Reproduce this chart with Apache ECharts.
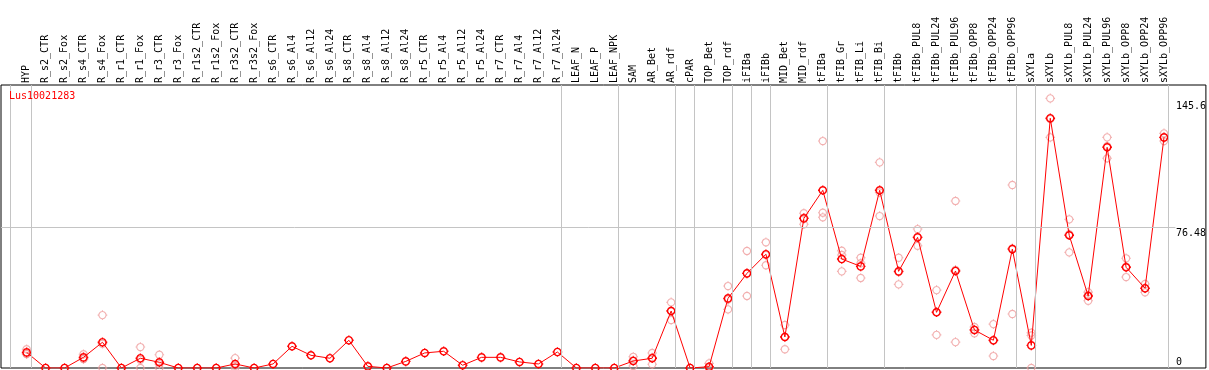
<!DOCTYPE html>
<html>
<head>
<meta charset="utf-8">
<script src="https://cdn.jsdelivr.net/npm/echarts@6/dist/echarts.min.js"></script>
<style>
html,body{margin:0;padding:0;background:#fff;}
#chart{width:1209px;height:370px;}
</style>
</head>
<body>
<div id="chart"></div>
<script>
var categories=['HYP','R_s2_CTR','R_s2_Fox','R_s4_CTR','R_s4_Fox','R_r1_CTR','R_r1_Fox','R_r3_CTR','R_r3_Fox',
    'R_r1s2_CTR','R_r1s2_Fox','R_r3s2_CTR','R_r3s2_Fox','R_s6_CTR','R_s6_Al4','R_s6_Al12','R_s6_Al24',
    'R_s8_CTR','R_s8_Al4','R_s8_Al12','R_s8_Al24','R_r5_CTR','R_r5_Al4','R_r5_Al12','R_r5_Al24',
    'R_r7_CTR','R_r7_Al4','R_r7_Al12','R_r7_Al24','LEAF_N','LEAF_P','LEAF_NPK','SAM','AR_Bet','AR_rdf',
    'cPAR','TOP_Bet','TOP_rdf','iFIBa','iFIBb','MID_Bet','MID_rdf','tFIBa','tFIB_Gr','tFIB_Li','tFIB_Bi',
    'tFIBb','tFIBb_PUL8','tFIBb_PUL24','tFIBb_PUL96','tFIBb_OPP8','tFIBb_OPP24','tFIBb_OPP96',
    'sXYLa','sXYLb','sXYLb_PUL8','sXYLb_PUL24','sXYLb_PUL96','sXYLb_OPP8','sXYLb_OPP24','sXYLb_OPP96'];

// mean expression per sample
var means=[8.5,0,0,5.8,14,0,5.3,3.1,0,0,0,2.2,0,2.2,11.8,6.9,5.3,15.1,0.9,0,3.6,8.2,9.1,1.5,5.8,
    5.8,3.3,2.2,8.7,0,0,0,3.8,5.3,31.0,0,0.7,37.9,51.5,61.9,16.9,81.4,96.7,59.3,55.3,96.7,
    52.6,71.1,30.3,52.8,20.7,15.1,64.7,12.3,135.9,72.2,39.2,120.1,54.8,43.4,125.5];

// replicates (null = not shown)
var rep1=[10.2,null,null,7.5,28.8,null,11.4,7.2,null,null,null,5.4,null,null,null,null,null,null,null,null,null,null,null,null,null,
    null,null,null,null,null,null,null,6.1,8.2,35.7,null,2.5,44.6,63.7,68.4,23.4,84.2,123.5,63.8,60,111.9,
    60,75.6,42.4,90.9,22.3,23.9,99.6,19.2,146.7,80.9,41.3,125.5,59.7,45.7,127.7];
var rep2=[7.6,null,null,4.9,0,null,0,0,null,null,null,0,null,null,null,null,null,null,null,null,null,null,null,null,null,
    null,null,null,null,null,null,null,1.1,2,26.1,null,0,31.9,39.2,55.9,10.2,78.2,84.5,52.6,49,82.7,
    45.5,66.5,18,14.1,18.9,6.5,29.4,0,125.5,62.9,36.6,114.1,49.5,41.2,123.5];
var rep3=[7.7,null,null,5.0,13.2,null,4.5,2.1,null,null,null,1.2,null,null,null,null,null,null,null,null,null,null,null,null,null,
    null,null,null,null,null,null,null,4.2,5.7,31.2,null,0,37.2,51.6,61.4,17.1,81.8,82,61.5,57,95.5,
    52.3,71.2,30.5,53.4,20.9,14.9,65.1,17.7,135.5,72.8,39.7,120.7,55.2,43.3,125.3];

// group separators (after these sample indexes)
var groupLines=[-0.84,0.22,28.22,31.22,34.22,35.22,37.22,38.22,39.22,42.22,45.22,52.22,53.22,60.22];
var yTicks=[0,76.48,145.6];
var geneName='Lus10021283';

var chart=echarts.init(document.getElementById('chart'));
// circle with four short ticks
var mark='path://M3.6,0 C3.6,1.99 1.99,3.6 0,3.6 C-1.99,3.6 -3.6,1.99 -3.6,0 C-3.6,-1.99 -1.99,-3.6 0,-3.6 C1.99,-3.6 3.6,-1.99 3.6,0 Z'
    +' M0,-3.6 L0,-4.8 M0,3.6 L0,4.8 M-3.6,0 L-4.8,0 M3.6,0 L4.8,0';
var markSize=9.6;
var mono='DejaVu Sans Mono';

function pts(arr){
    var out=[];
    arr.forEach(function(v,i){ if(v!=null) out.push([i,v]); });
    return out;
}
var repData=pts(rep1).concat(pts(rep2)).concat(pts(rep3));
var xMin=-1.352, xMax=62.21;

var option={
    animation:false,
    title:{text:geneName,left:9,top:91,padding:0,
        textStyle:{color:'#ff0000',fontSize:10,fontWeight:'normal',fontFamily:mono}},
    grid:{left:1,right:1,top:85,bottom:2,show:true,borderColor:'#000',borderWidth:1,backgroundColor:'transparent'},
    xAxis:{type:'value',position:'top',min:xMin,max:xMax,
        axisLine:{show:false},axisTick:{show:false},splitLine:{show:false},
        axisLabel:{customValues:categories.map(function(c,i){return i;}),
            formatter:function(v){return categories[Math.round(v)];},
            rotate:90,margin:2,fontSize:10,fontFamily:mono,color:'#000'}},
    yAxis:{type:'value',position:'right',offset:-30,min:0,max:154,
        axisLine:{show:false},axisTick:{show:false},splitLine:{show:false},
        axisLabel:{customValues:yTicks,margin:0,align:'left',fontSize:10,fontFamily:mono,color:'#000',
            formatter:function(v){return v===0?'{b|0}':'{t|'+v+'}';},
            rich:{t:{fontSize:10,fontFamily:mono,padding:[11,0,0,0]},b:{fontSize:10,fontFamily:mono,padding:[0,0,12,0]}}}},
    series:[
        {type:'scatter',data:repData,symbol:mark,symbolSize:markSize,z:2,
            itemStyle:{color:'transparent',borderColor:'#ef9c9c',borderWidth:1.1},
            markLine:{silent:true,symbol:'none',label:{show:false},animation:false,
                lineStyle:{color:'#c4c4c4',type:'solid',width:1},
                data:groupLines.map(function(x){return {xAxis:x};}).concat([
                    [{coord:[xMin,76.48]},{coord:[60.6,76.48]}]
                ])}},
        {type:'line',data:means.map(function(v,i){return [i,v];}),symbol:mark,symbolSize:markSize,showAllSymbol:true,z:3,
            lineStyle:{color:'#ff0000',width:1},
            itemStyle:{color:'transparent',borderColor:'#ff0000',borderWidth:1.4}}
    ]
};
chart.setOption(option);
</script>
</body>
</html>
